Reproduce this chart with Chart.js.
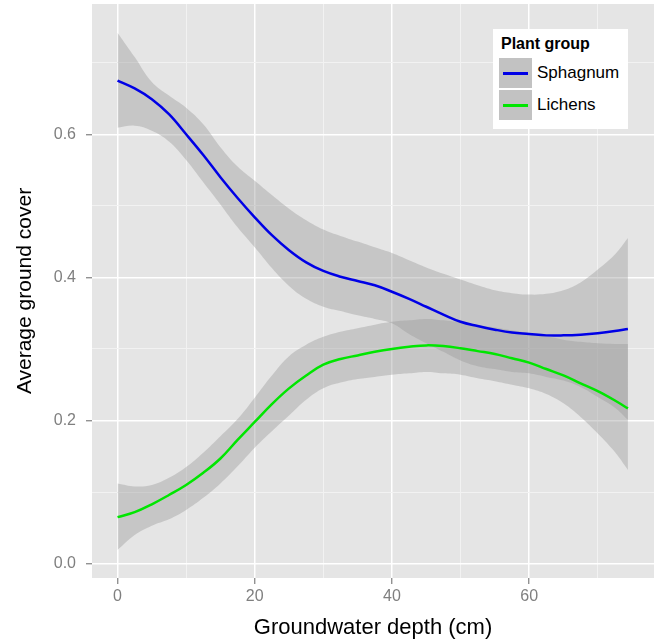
<!DOCTYPE html>
<html>
<head>
<meta charset="utf-8">
<script src="https://cdn.jsdelivr.net/npm/chart.js@4.4.1/dist/chart.umd.min.js"></script>
<style>
  body { margin: 0; background: #fff; font-family: "Liberation Sans", Arial, sans-serif; }
  #wrap { position: relative; width: 654px; height: 641px; }
  #legend { position: absolute; left: 493px; top: 29px; width: 135px; height: 100px; background: #fff; }
  #legend .title { position: absolute; left: 8px; top: 5px; font-weight: bold; font-size: 16px; line-height: 20px; color: #000; }
  #legend .row { position: absolute; left: 6px; height: 30px; }
  #legend .key { position: absolute; left: 0; top: 0; width: 33px; height: 30px; background: #c2c2c2; }
  #legend .key span { position: absolute; left: 4px; top: 14px; width: 25px; height: 2.5px; }
  #legend .lab { position: absolute; left: 38px; top: 0; font-size: 17px; line-height: 30px; color: #000; white-space: nowrap; }
</style>
</head>
<body>
<div id="wrap">
  <canvas id="chart"></canvas>
  <div id="legend"></div>
</div>
<script>
// groundwater depth (cm)
const depth = [0, 2.5, 5, 7.5, 10, 12.5, 15, 17.5, 20, 22.5, 25, 27.5, 30, 32.5, 35, 37.5, 40,
  42.5, 45, 47.5, 50, 52.5, 55, 57.5, 60, 62.5, 65, 67.5, 70, 72.5, 74.4];

// smoothed average ground cover + confidence band
const sphagnum = [0.675, 0.664, 0.649, 0.628, 0.600, 0.571, 0.540, 0.511, 0.484, 0.459, 0.438, 0.421, 0.409, 0.401, 0.395, 0.389, 0.380,
  0.370, 0.359, 0.348, 0.338, 0.332, 0.327, 0.323, 0.321, 0.319, 0.319, 0.320, 0.322, 0.325, 0.328];
const sphagnumHi = [0.742, 0.708, 0.673, 0.654, 0.637, 0.614, 0.582, 0.555, 0.535, 0.515, 0.496, 0.480, 0.467, 0.458, 0.450, 0.442, 0.434,
  0.424, 0.414, 0.405, 0.397, 0.389, 0.382, 0.378, 0.376, 0.377, 0.382, 0.393, 0.411, 0.432, 0.455];
const sphagnumLo = [0.609, 0.612, 0.605, 0.590, 0.564, 0.533, 0.502, 0.470, 0.442, 0.413, 0.388, 0.370, 0.359, 0.353, 0.347, 0.342, 0.336,
  0.321, 0.308, 0.296, 0.284, 0.276, 0.272, 0.268, 0.266, 0.261, 0.256, 0.247, 0.233, 0.218, 0.201];

const lichens = [0.065, 0.072, 0.083, 0.096, 0.110, 0.127, 0.147, 0.173, 0.198, 0.223, 0.245, 0.263, 0.278, 0.286, 0.291, 0.296, 0.300,
  0.303, 0.305, 0.304, 0.301, 0.297, 0.293, 0.287, 0.281, 0.272, 0.263, 0.252, 0.241, 0.228, 0.217];
const lichensHi = [0.112, 0.108, 0.110, 0.120, 0.135, 0.155, 0.178, 0.202, 0.232, 0.263, 0.290, 0.306, 0.317, 0.324, 0.329, 0.334, 0.338,
  0.340, 0.342, 0.340, 0.337, 0.333, 0.330, 0.326, 0.322, 0.318, 0.313, 0.310, 0.308, 0.307, 0.307];
const lichensLo = [0.019, 0.040, 0.053, 0.062, 0.075, 0.092, 0.112, 0.136, 0.162, 0.185, 0.207, 0.229, 0.245, 0.253, 0.258, 0.261, 0.264,
  0.266, 0.268, 0.266, 0.264, 0.259, 0.255, 0.250, 0.245, 0.237, 0.224, 0.205, 0.182, 0.156, 0.131];

const groups = ['Sphagnum', 'Lichens'];
const groupColors = ['#0000e6', '#00e600'];

const xMajor = [0, 20, 40, 60];
const xMinor = [10, 30, 50, 70];
const yMajor = [0, 0.2, 0.4, 0.6];
const yMinor = [0.1, 0.3, 0.5, 0.7];

const pts = arr => depth.map((x, i) => ({x: x, y: arr[i]}));
const band = 'rgba(153,153,153,0.4)';

// panel background like ggplot
const panelBg = {
  id: 'panelBg',
  beforeDraw(chart) {
    const a = chart.chartArea, c = chart.ctx;
    c.save();
    c.fillStyle = '#e5e5e5';
    c.fillRect(a.left, a.top, a.right - a.left, a.bottom - a.top);
    c.restore();
  }
};

const isMajor = (v, list) => list.some(m => Math.abs(m - v) < 1e-9);

function gridOpts(major) {
  return {
    color: c => isMajor(c.tick.value, major) ? '#ffffff' : '#f2f2f2',
    lineWidth: c => isMajor(c.tick.value, major) ? 1.5 : 1,
    tickColor: c => isMajor(c.tick.value, major) ? '#7f7f7f' : 'rgba(0,0,0,0)',
    tickLength: 6,
    tickWidth: 1.2
  };
}

const ctx = document.getElementById('chart').getContext('2d');
const chart = new Chart(ctx, {
  type: 'line',
  data: {
    datasets: [
      { label: groups[0], data: pts(sphagnum), borderColor: groupColors[0], borderWidth: 2.5, pointRadius: 0, fill: false, tension: 0.4 },
      { label: groups[1], data: pts(lichens), borderColor: groupColors[1], borderWidth: 2.5, pointRadius: 0, fill: false, tension: 0.4 },
      { label: 'sHi', data: pts(sphagnumHi), borderWidth: 0, pointRadius: 0, fill: 3, backgroundColor: band, tension: 0.4 },
      { label: 'sLo', data: pts(sphagnumLo), borderWidth: 0, pointRadius: 0, fill: false, tension: 0.4 },
      { label: 'lHi', data: pts(lichensHi), borderWidth: 0, pointRadius: 0, fill: 5, backgroundColor: band, tension: 0.4 },
      { label: 'lLo', data: pts(lichensLo), borderWidth: 0, pointRadius: 0, fill: false, tension: 0.4 }
    ]
  },
  options: {
    responsive: true,
    maintainAspectRatio: false,
    animation: false,
    layout: { padding: { top: 4, left: 0, right: 0, bottom: 0 } },
    plugins: { legend: { display: false }, tooltip: { enabled: false } },
    scales: {
      x: {
        type: 'linear',
        min: -3.72,
        max: 78.2,
        afterBuildTicks: s => { s.ticks = xMajor.concat(xMinor).map(v => ({value: v})); },
        afterFit: s => { s.height = 63; s.paddingLeft = 0; s.paddingRight = 0; },
        border: { display: false },
        grid: gridOpts(xMajor),
        ticks: {
          autoSkip: false, maxRotation: 0, padding: 3,
          color: '#7f7f7f',
          font: { family: '"Liberation Sans", Arial, sans-serif', size: 16 },
          callback: v => isMajor(v, xMajor) ? String(v) : ''
        },
        title: {
          display: true,
          text: 'Groundwater depth (cm)',
          color: '#000',
          font: { family: '"Liberation Sans", Arial, sans-serif', size: 22 },
          padding: { top: 0, bottom: 0 }
        }
      },
      y: {
        type: 'linear',
        min: -0.02,
        max: 0.782,
        afterBuildTicks: s => { s.ticks = yMajor.concat(yMinor).map(v => ({value: v})); },
        afterFit: s => { s.width = 92; s.paddingTop = 0; s.paddingBottom = 0; },
        border: { display: false },
        grid: gridOpts(yMajor),
        ticks: {
          autoSkip: false, padding: 10,
          color: '#7f7f7f',
          font: { family: '"Liberation Sans", Arial, sans-serif', size: 16 },
          callback: v => isMajor(v, yMajor) ? v.toFixed(1) : ''
        },
        title: {
          display: true,
          text: 'Average ground cover',
          color: '#000',
          font: { family: '"Liberation Sans", Arial, sans-serif', size: 21 },
          padding: { top: 13, bottom: 0 }
        }
      }
    }
  },
  plugins: [panelBg]
});

// legend inside the panel, ggplot style
const leg = document.getElementById('legend');
let html = '<div class="title">Plant group</div>';
groups.forEach((g, i) => {
  html += '<div class="row" style="top:' + (29 + i * 32) + 'px"><div class="key"><span style="background:' +
    groupColors[i] + '"></span></div><div class="lab">' + g + '</div></div>';
});
leg.innerHTML = html;
</script>
</body>
</html>
